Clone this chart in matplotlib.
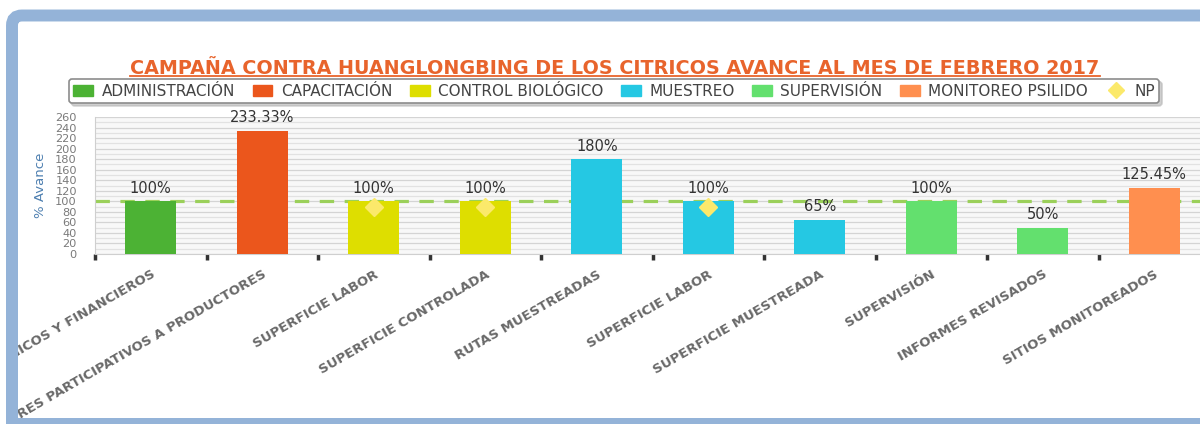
import matplotlib
matplotlib.use('Agg')
import matplotlib.pyplot as plt
from matplotlib.patches import Patch, FancyBboxPatch, Rectangle
from matplotlib.lines import Line2D
from matplotlib.ticker import MultipleLocator

# data
categories = [
    "RECURSOS TECNICOS Y FINANCIEROS",
    "TALLERES PARTICIPATIVOS A PRODUCTORES",
    "SUPERFICIE LABOR",
    "SUPERFICIE CONTROLADA",
    "RUTAS MUESTREADAS",
    "SUPERFICIE LABOR",
    "SUPERFICIE MUESTREADA",
    "SUPERVISIÓN",
    "INFORMES REVISADOS",
    "SITIOS MONITOREADOS",
]
avance = [100, 233.33, 100, 100, 180, 100, 65, 100, 50, 125.45]
componente = ["ADMINISTRACIÓN", "CAPACITACIÓN", "CONTROL BIOLÓGICO", "CONTROL BIOLÓGICO",
              "MUESTREO", "MUESTREO", "MUESTREO", "SUPERVISIÓN", "SUPERVISIÓN",
              "MONITOREO PSILIDO"]
np_values = [None, None, 90, 90, None, 90, None, None, None, None]
meta = 100

series = ["ADMINISTRACIÓN", "CAPACITACIÓN", "CONTROL BIOLÓGICO", "MUESTREO",
          "SUPERVISIÓN", "MONITOREO PSILIDO"]
colors = {
    "ADMINISTRACIÓN": "#4cb234",
    "CAPACITACIÓN": "#eb561c",
    "CONTROL BIOLÓGICO": "#dede00",
    "MUESTREO": "#25c8e3",
    "SUPERVISIÓN": "#63e06e",
    "MONITOREO PSILIDO": "#ff8f4f",
}
np_color = "#fbe96b"
frame_blue = '#94b3d8'

W, H = 1200, 424
fig = plt.figure(figsize=(W / 100, H / 100), dpi=100)
fig.patch.set_facecolor('white')

def fx(px):
    return px / W

def fy(py):
    return 1 - py / H

ax = fig.add_axes([fx(95), fy(254), fx(1115), 137 / H])
ax.set_facecolor('#f8f8f8')

x = list(range(len(categories)))
bars = ax.bar(x, avance, width=0.46, color=[colors[c] for c in componente], zorder=3)
ax.bar_label(bars, labels=[f"{v:g}%" for v in avance], padding=4, fontsize=10.5,
             color='#333333', zorder=5)

ax.axhline(meta, color='#9bd05a', lw=2.3, dashes=(4.5, 3.3), zorder=2)

npx = [i for i, v in enumerate(np_values) if v is not None]
npy = [v for v in np_values if v is not None]
ax.plot(npx, npy, ls='none', marker='D', ms=9.5, color=np_color, zorder=4)

ax.set_xlim(-0.5, len(categories) - 0.5)
ax.set_ylim(0, 260)
ax.yaxis.set_major_locator(MultipleLocator(20))
ax.yaxis.set_minor_locator(MultipleLocator(10))
ax.grid(axis='y', which='major', color='#d4d4d4', lw=0.9, zorder=0)
ax.grid(axis='y', which='minor', color='#e2e2e2', lw=0.9, zorder=0)
ax.set_axisbelow(True)
ax.tick_params(axis='y', which='both', length=0, labelsize=8.2, labelcolor='#7a7a7a', pad=13)

ax.set_xticks(x)
ax.set_xticklabels(categories, rotation=30, ha='right', rotation_mode='anchor',
                   fontsize=9.5, fontweight='bold', color='#696969')
ax.set_xticks([i - 0.5 for i in x], minor=True)
ax.tick_params(axis='x', which='major', length=0, pad=10)
ax.tick_params(axis='x', which='minor', length=4, width=2.5, color='#333333')

for s in ['top', 'right']:
    ax.spines[s].set_visible(False)
for s in ['left', 'bottom']:
    ax.spines[s].set_color('#cfcfcf')

ax.set_ylabel('% Avance', fontsize=9.5, color='#4d7fb0', labelpad=6)

handles = [Patch(facecolor=colors[s], edgecolor=colors[s]) for s in series]
handles.append(Line2D([], [], ls='none', marker='D', ms=8, color=np_color))
leg = fig.legend(handles, series + ["NP"], loc='center', ncol=7,
                 bbox_to_anchor=(fx(614), fy(91)), fontsize=11, frameon=True,
                 fancybox=True, edgecolor='#8c8c8c', framealpha=1,
                 handlelength=1.3, handleheight=0.7, handletextpad=0.55,
                 columnspacing=1.15, borderpad=0.3,
                 shadow={'color': '#bbbbbb', 'alpha': 0.7})
for t in leg.get_texts():
    t.set_color('#444444')
leg.get_frame().set_linewidth(1.2)

title = fig.text(fx(615), fy(74), "CAMPAÑA CONTRA HUANGLONGBING DE LOS CITRICOS AVANCE AL MES DE FEBRERO 2017",
                 ha='center', va='baseline', fontsize=13.8, fontweight='bold', color='#e8642c')

# underline the title, just below its baseline
fig.canvas.draw()
bb = title.get_window_extent()
uy = fy(76)
fig.add_artist(Line2D([bb.x0 / W, bb.x1 / W], [uy, uy], color='#e8642c', lw=1.3, zorder=6))

# screenshot frame
fig.add_artist(Rectangle((0, 0), fx(6), 1, transform=fig.transFigure,
                         facecolor='white', edgecolor='none', zorder=20))
fig.add_artist(Rectangle((0, fy(10)), 1, 10 / H, transform=fig.transFigure,
                         facecolor='white', edgecolor='none', zorder=20))
fig.add_artist(FancyBboxPatch((0.12, -1.0), 12.2, 5.085,
                              boxstyle='round,pad=0,rounding_size=0.1',
                              transform=fig.dpi_scale_trans, facecolor='none',
                              edgecolor=frame_blue, lw=8.6, zorder=21))
fig.add_artist(Rectangle((fx(6), 0), fx(12), fy(30), transform=fig.transFigure,
                         facecolor=frame_blue, edgecolor='none', zorder=22))
fig.add_artist(Rectangle((fx(6), 0), 1, 6 / H, transform=fig.transFigure,
                         facecolor=frame_blue, edgecolor='none', zorder=22))

fig.savefig('out.png', dpi=100)
